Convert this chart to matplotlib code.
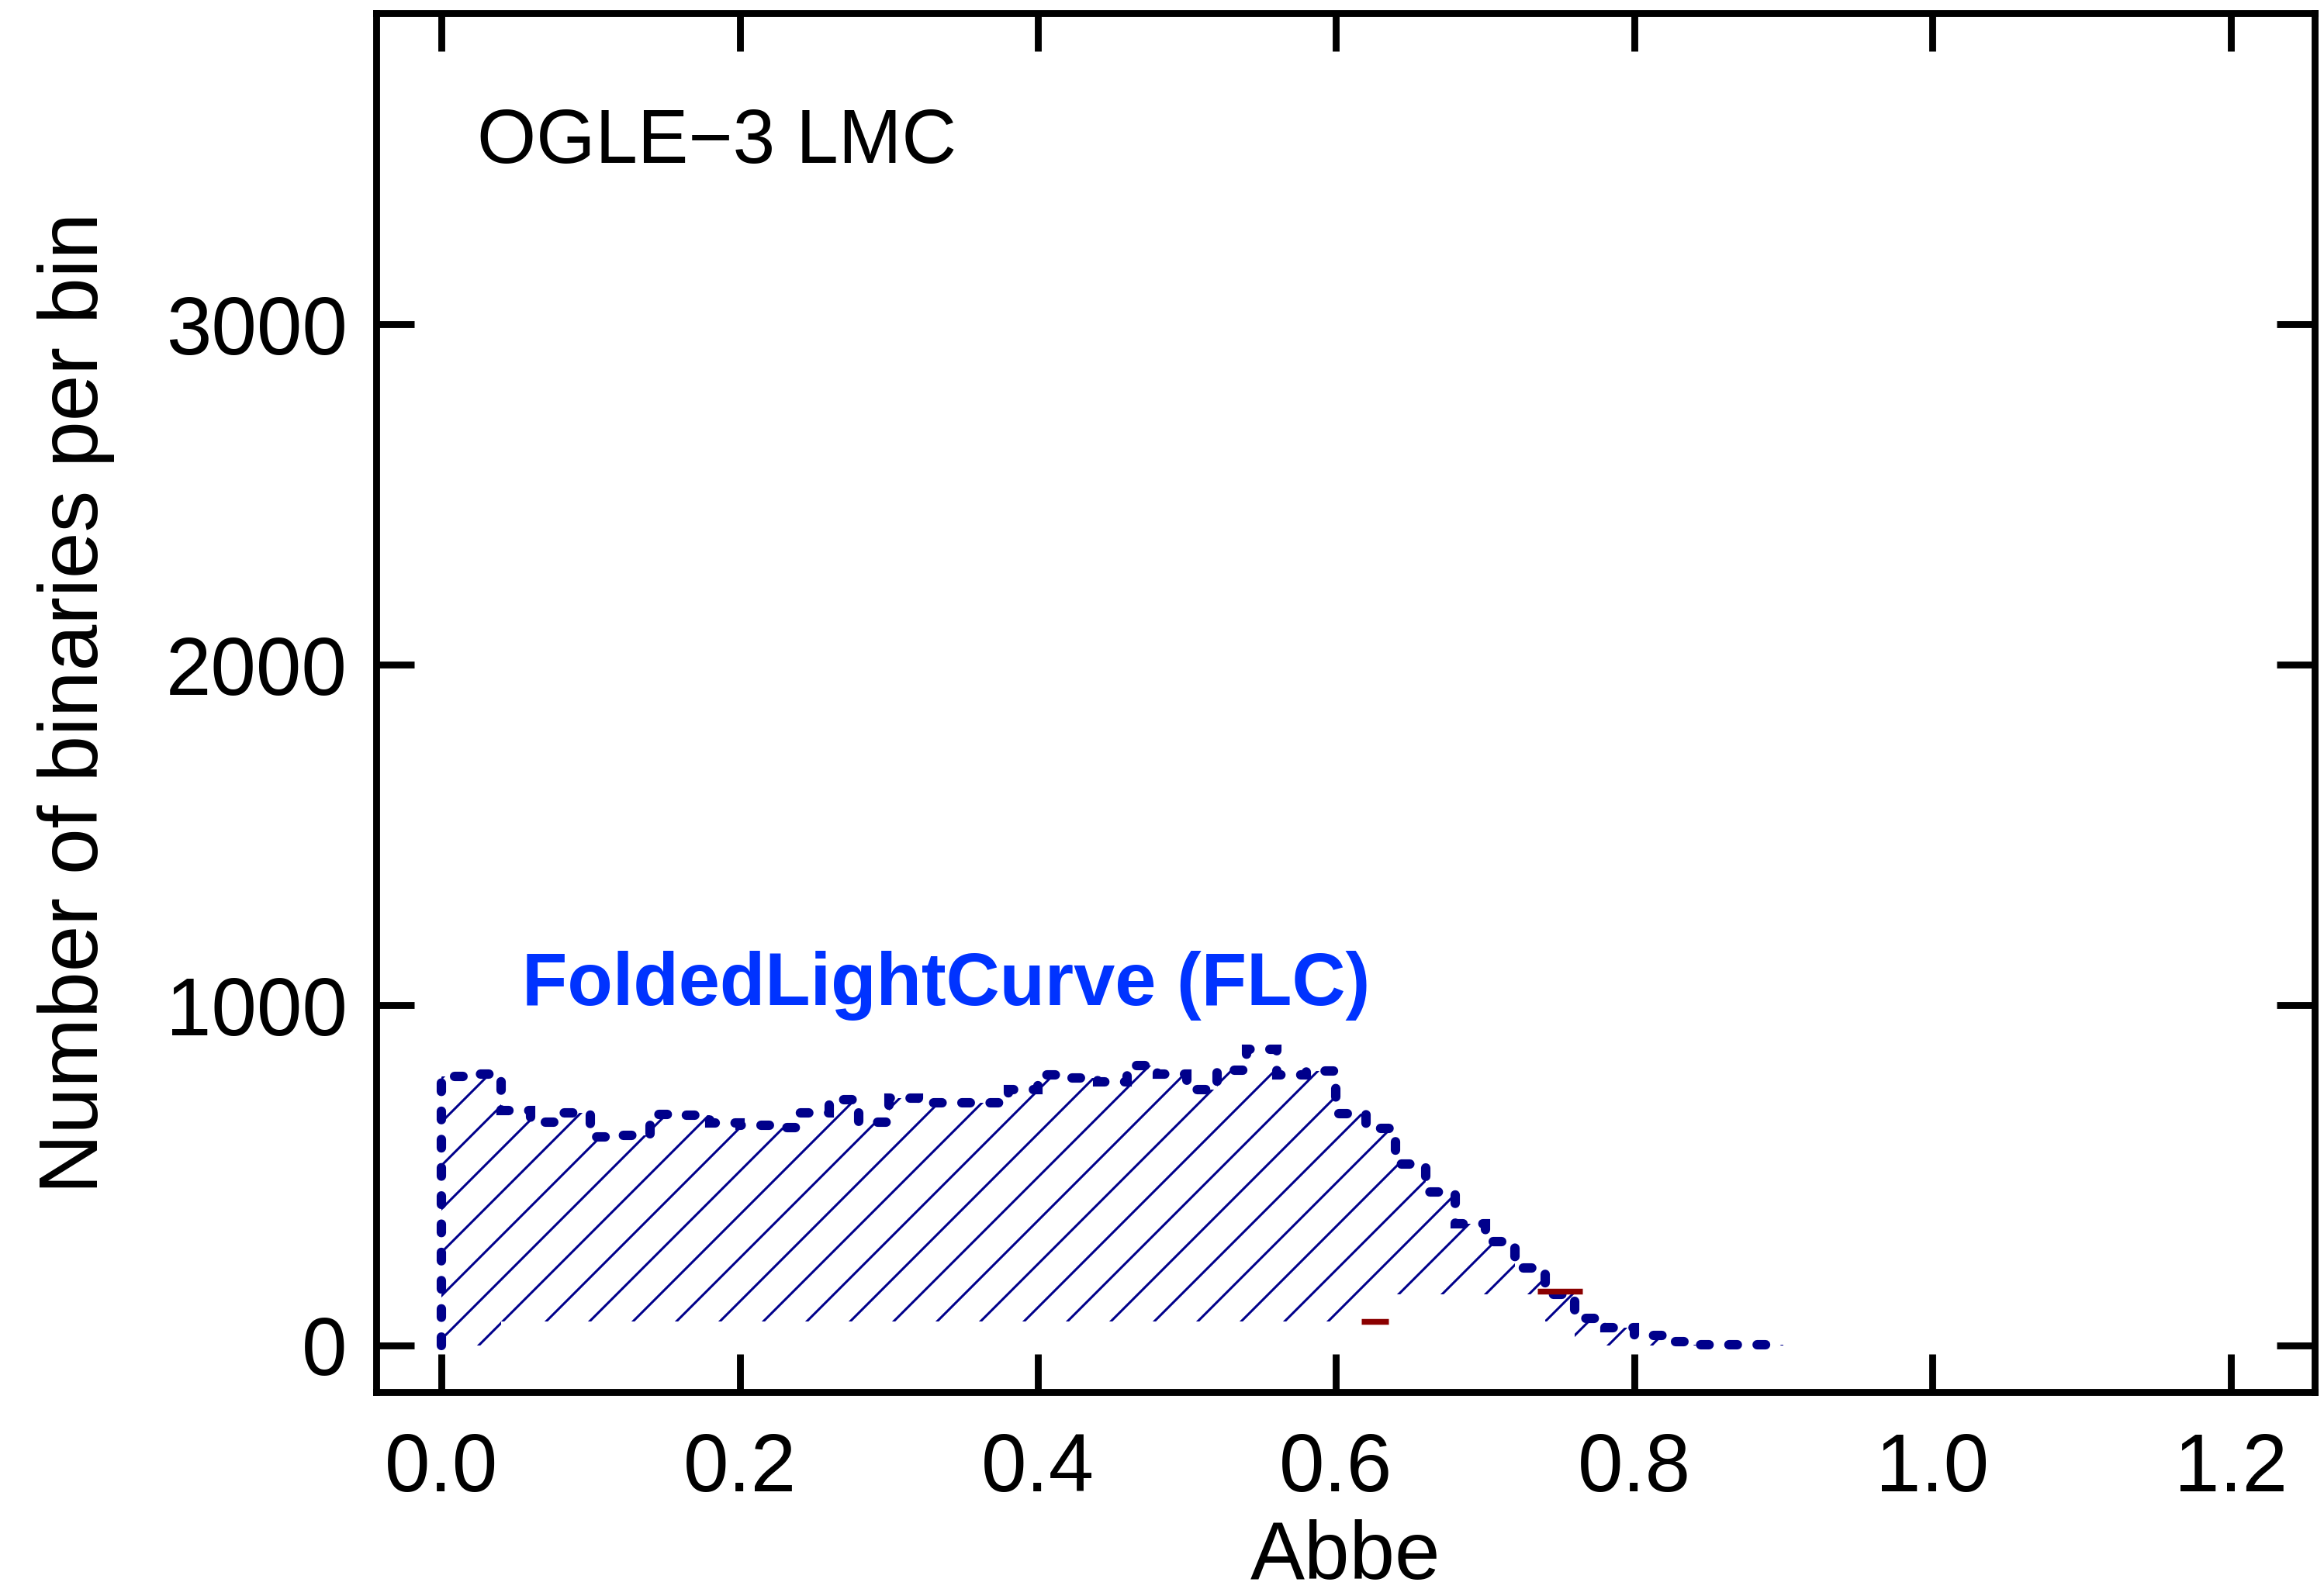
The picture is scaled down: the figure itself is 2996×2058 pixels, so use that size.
import matplotlib
matplotlib.use('Agg')
import matplotlib.pyplot as plt
import numpy as np

# histogram of Abbe values, FLC sample (bin width 0.02)
bin_edges = np.round(np.arange(0.0, 0.90 + 0.001, 0.02), 2)
flc_counts = [790, 798, 691, 657, 684, 612, 618, 680, 677, 654,
              648, 640, 684, 722, 657, 726, 714, 714, 712, 752,
              796, 787, 775, 823, 798, 752, 809, 871, 795, 806,
              682, 638, 534, 452, 358, 304, 228, 150, 80, 53,
              30, 11, 3, 1, 1]

# second (mostly hidden) histogram, white filled
other_edges = np.round(np.arange(0.04, 0.76 + 0.001, 0.02), 2)
other_counts = [70] * 29 + [150] * 6 + [70]
# the few visible bits of its outline
other_seg_x0 = [0.617, 0.735]
other_seg_x1 = [0.635, 0.765]
other_seg_y = [70, 160]

x_ticks = [0.0, 0.2, 0.4, 0.6, 0.8, 1.0, 1.2]
y_ticks = [0, 1000, 2000, 3000]

navy = '#00008b'
dpi = 336
plt.rcParams['font.family'] = ['Liberation Sans', 'DejaVu Sans']
plt.rcParams['hatch.linewidth'] = 0.65

fig = plt.figure(figsize=(2996 / dpi, 2058 / dpi), dpi=dpi)
ax = fig.add_axes([485 / 2996, 1 - 1795 / 2058, (2984 - 485) / 2996, (1795 - 17) / 2058])

ax.stairs(flc_counts, bin_edges, fill=True, facecolor='none', edgecolor=navy,
          linewidth=0, hatch='//', baseline=0, zorder=1)
ax.stairs(other_counts, other_edges, fill=True, facecolor='white', edgecolor='none',
          linewidth=0, baseline=0, zorder=2)
ax.hlines(other_seg_y, other_seg_x0, other_seg_x1, color='#8b0000', linewidth=1.6, zorder=4)
line = ax.stairs(flc_counts, bin_edges, fill=False, color=navy, linewidth=2.6,
                 linestyle=(0, (0.9, 2.1)), baseline=0, zorder=3)
line.set_capstyle('round')

ax.text(0.024, 3534, 'OGLE\u22123 LMC', fontsize=21, va='center', ha='left')
ax.text(0.054, 1058, 'FoldedLightCurve (FLC)', fontsize=20.5, fontweight='bold',
        color='#0033ff', va='center', ha='left')

ax.set_xlim(-0.0437, 1.2562)
ax.set_ylim(-137, 3915)
ax.set_xticks(x_ticks)
ax.set_xticklabels([f'{v:.1f}' for v in x_ticks])
ax.set_yticks(y_ticks)
ax.set_yticklabels([str(v) for v in y_ticks])
ax.tick_params(direction='in', length=10.5, width=1.9, labelsize=22.5,
               top=True, right=True)
ax.tick_params(axis='x', pad=11)
ax.tick_params(axis='y', pad=8)
for s in ax.spines.values():
    s.set_linewidth(1.9)

ax.set_xlabel('Abbe', fontsize=22.5, labelpad=3)
ax.set_ylabel('Number of binaries per bin', fontsize=23, labelpad=14)

fig.savefig('out.png', dpi=dpi)
